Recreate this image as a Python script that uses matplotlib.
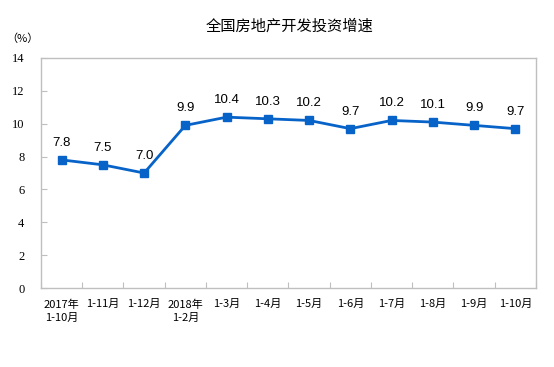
import numpy as np
import matplotlib.pyplot as plt

plt.rcParams['font.family'] = ['Noto Sans CJK SC', 'DejaVu Sans']

labels = ['2017年\n1-10月', '1-11月', '1-12月', '2018年\n1-2月', '1-3月', '1-4月',
          '1-5月', '1-6月', '1-7月', '1-8月', '1-9月', '1-10月']
values = [7.8, 7.5, 7.0, 9.9, 10.4, 10.3, 10.2, 9.7, 10.2, 10.1, 9.9, 9.7]

x = np.arange(len(values))
line_color = '#0863c9'
grey = '#bfbfbf'

fig = plt.figure(figsize=(5.54, 3.67), dpi=100)
ax = fig.add_axes([0.074, 0.215, 0.8935, 0.627])

ax.plot(x, values, color=line_color, lw=2.0, marker='s', ms=5.5, zorder=3)

for xi, v in zip(x, values):
    ax.annotate(f'{v:.1f}', (xi, v), xytext=(0, 11), textcoords='offset pixels',
                ha='center', va='bottom', fontsize=9.5, family='Liberation Sans')

ax.set_xlim(-0.5, len(values) - 0.5)
ax.set_ylim(0, 14)
ax.set_yticks(range(0, 15, 2))
ax.set_yticklabels([str(v) for v in range(0, 15, 2)], family='Liberation Serif', fontsize=9)

# ticks sit on category boundaries, labels at centres
ax.set_xticks(np.arange(len(values) + 1) - 0.5)
ax.set_xticklabels([])
ax.set_xticks(x, minor=True)
ax.set_xticklabels(labels, minor=True, fontsize=8, va='top', linespacing=1.45)
ax.tick_params(axis='x', which='minor', length=0, pad=8)
ax.tick_params(axis='x', which='major', direction='in', length=4, color=grey)
ax.tick_params(axis='y', direction='in', length=4, color=grey, pad=12)

for s in ax.spines.values():
    s.set_color(grey)
    s.set_linewidth(1)

fig.text(0.523, 0.93, '全国房地产开发投资增速', ha='center', va='center', fontsize=11)
fig.text(0.012, 0.895, '（%）', ha='left', va='center', fontsize=8)

fig.savefig('out.png', dpi=100)
